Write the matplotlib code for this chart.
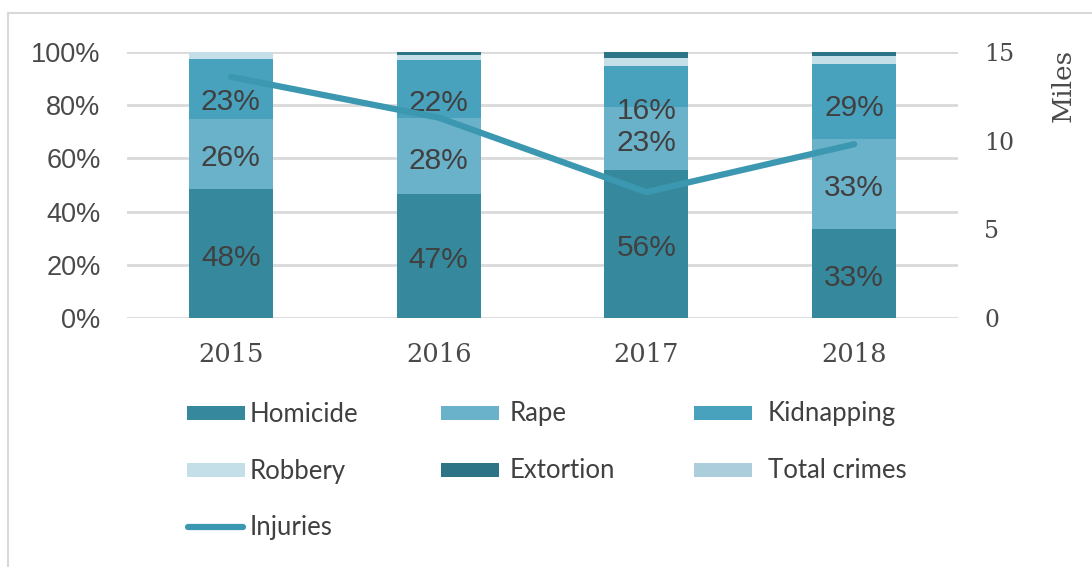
import matplotlib
matplotlib.use("Agg")
import matplotlib.pyplot as plt
from matplotlib.patches import Rectangle
from matplotlib.lines import Line2D
import numpy as np

# ---- data ----
years = ["2015", "2016", "2017", "2018"]
homicide = [48.5, 46.5, 55.6, 33.5]
rape = [26.3, 28.6, 23.7, 33.8]
kidnapping = [22.6, 21.9, 15.4, 28.2]
robbery = [2.6, 2.0, 3.0, 3.0]
extortion = [0.0, 1.0, 2.3, 1.5]
total_crimes = [0.0, 0.0, 0.0, 0.0]
injuries = [13.6, 11.3, 7.1, 9.8]

homicide_lbl = ["48%", "47%", "56%", "33%"]
rape_lbl = ["26%", "28%", "23%", "33%"]
kidnapping_lbl = ["23%", "22%", "16%", "29%"]

series_names = ["Homicide", "Rape", "Kidnapping", "Robbery", "Extortion", "Total crimes"]
colors = ["#36899d", "#6ab1ca", "#48a2be", "#c4dfe8", "#2e7487", "#abcddc"]
line_color = "#3b98b0"
text_color = "#404040"

W, H = 1092, 567
fig = plt.figure(figsize=(W / 100, H / 100), dpi=100)
ax = fig.add_axes([127 / W, 1 - 318 / H, (958 - 127) / W, (318 - 52) / H])

x = np.arange(len(years))
width = 0.404
stack = [homicide, rape, kidnapping, robbery, extortion, total_crimes]
bottom = np.zeros(len(years))
bottoms = []
for vals, c in zip(stack, colors):
    v = np.array(vals)
    ax.bar(x, v, width, bottom=bottom, color=c, zorder=2, linewidth=0)
    bottoms.append(bottom.copy())
    bottom = bottom + v

ax.set_xlim(-0.5, 3.5)
ax.set_ylim(0, 100)
ax.set_yticks([0, 20, 40, 60, 80, 100])
ax.set_yticklabels([f"{t}%" for t in [0, 20, 40, 60, 80, 100]],
                   fontfamily="Liberation Sans", fontsize=19.5, color="#4a4a4a")
ax.set_xticks(x)
ax.set_xticklabels(years, fontfamily="DejaVu Serif", fontsize=18.5, color="#4a4a4a")
ax.tick_params(axis="y", length=0, pad=19)
ax.tick_params(axis="x", length=0, pad=17.5)
ax.grid(axis="y", color="#d9d9d9", linewidth=2, zorder=0)
for s in ax.spines.values():
    s.set_visible(False)

# data labels
lbl_font = dict(ha="center", va="center", fontsize=21.5, color=text_color,
                family="Liberation Sans", zorder=4)
base_shift = -1.6
kid_shift = [-5.0, -5.3, -9.1, -2.6]
for i in range(len(years)):
    ax.text(x[i], bottoms[0][i] + homicide[i] / 2 + base_shift, homicide_lbl[i], **lbl_font)
    ax.text(x[i], bottoms[1][i] + rape[i] / 2 + base_shift, rape_lbl[i], **lbl_font)
    ax.text(x[i], bottoms[2][i] + kidnapping[i] / 2 + kid_shift[i], kidnapping_lbl[i], **lbl_font)

# secondary axis
ax2 = ax.twinx()
ax2.plot(x, injuries, color=line_color, linewidth=4.5, solid_capstyle="round", zorder=3)
ax2.set_ylim(0, 15)
ax2.set_yticks([0, 5, 10, 15])
ax2.set_yticklabels(["0", "5", "10", "15"], fontfamily="DejaVu Serif", fontsize=17, color="#4a4a4a")
ax2.tick_params(axis="y", length=0, pad=19)
for s in ax2.spines.values():
    s.set_visible(False)
ax2.set_ylabel("Miles", fontfamily="DejaVu Serif", fontsize=19, color="#4a4a4a")
ax2.yaxis.set_label_coords(1.112, 0.876)

# legend (manual)
leg_font = dict(family="Lato", fontsize=18.5, color=text_color, va="center", ha="left")
rows = [413, 470, 527]
cols = [(187, 250), (441, 510), (694, 768)]
items = list(zip(series_names, colors))
for k, (name, c) in enumerate(items):
    r, cc = divmod(k, 3)
    hx, tx = cols[cc]
    y = rows[r]
    fig.add_artist(Rectangle((hx / W, 1 - (y + 7) / H), 58 / W, 14 / H,
                             transform=fig.transFigure, color=c, linewidth=0))
    fig.text(tx / W, 1 - (y + 1) / H, name, **leg_font)
fig.add_artist(Line2D([188 / W, 243 / W], [1 - 527 / H, 1 - 527 / H], transform=fig.transFigure,
                      color=line_color, linewidth=4.5, solid_capstyle="round"))
fig.text(250 / W, 1 - 528 / H, "Injuries", **leg_font)

# border
fig.add_artist(Line2D([7.5 / W, 7.5 / W], [0, 1 - 12.5 / H], transform=fig.transFigure,
                      color="#d9d9d9", linewidth=1.5))
fig.add_artist(Line2D([7.5 / W, 1], [1 - 12.5 / H, 1 - 12.5 / H], transform=fig.transFigure,
                      color="#d9d9d9", linewidth=1.5))

fig.savefig("out.png", dpi=100)
